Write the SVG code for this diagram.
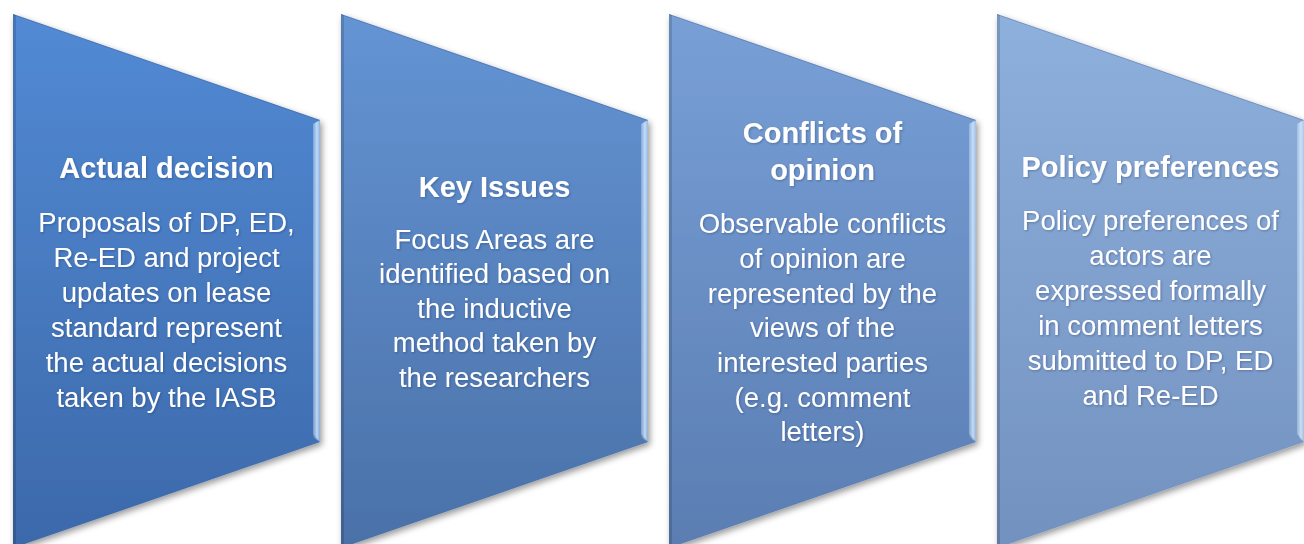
<svg xmlns="http://www.w3.org/2000/svg" width="1304" height="544" viewBox="0 0 1304 544">
  <defs>
    <linearGradient id="fill1" gradientUnits="userSpaceOnUse" x1="0" y1="14" x2="0" y2="548">
      <stop offset="0" stop-color="#528ad4"/>
      <stop offset="1" stop-color="#3c69aa"/>
    </linearGradient>
    <linearGradient id="fill2" gradientUnits="userSpaceOnUse" x1="0" y1="14" x2="0" y2="548">
      <stop offset="0" stop-color="#6494d4"/>
      <stop offset="1" stop-color="#4a71a8"/>
    </linearGradient>
    <linearGradient id="fill3" gradientUnits="userSpaceOnUse" x1="0" y1="14" x2="0" y2="548">
      <stop offset="0" stop-color="#78a0d7"/>
      <stop offset="1" stop-color="#5a7db2"/>
    </linearGradient>
    <linearGradient id="fill4" gradientUnits="userSpaceOnUse" x1="0" y1="14" x2="0" y2="548">
      <stop offset="0" stop-color="#8eb0dc"/>
      <stop offset="1" stop-color="#7291bf"/>
    </linearGradient>
    <!-- highlight on the bevelled right edge -->
    <linearGradient id="bevel" x1="0" y1="0" x2="1" y2="0">
      <stop offset="0" stop-color="#cfe6ff" stop-opacity="0.35"/>
      <stop offset="0.55" stop-color="#dff0ff" stop-opacity="0.8"/>
      <stop offset="1" stop-color="#cfe6ff" stop-opacity="0.5"/>
    </linearGradient>
    <filter id="shadow" x="-10%" y="-10%" width="120%" height="120%">
      <feDropShadow dx="2" dy="3" stdDeviation="3" flood-color="#000" flood-opacity="0.4"/>
    </filter>
    <filter id="textShadow" x="-5%" y="-20%" width="110%" height="140%">
      <feDropShadow dx="1" dy="1" stdDeviation="1" flood-color="#1a2f55" flood-opacity="0.35"/>
    </filter>
    <!-- one chevron block; positioned per node -->
    <polygon id="block" points="0,14 307,120 307,442 0,548"/>
  </defs>
  <style>
    .title { font-family: "Liberation Sans", Arial, sans-serif; font-weight: bold; font-size: 29px; fill: #ffffff; text-anchor: middle; }
    .body { font-family: "Liberation Sans", Arial, sans-serif; font-size: 27.5px; fill: #ffffff; text-anchor: middle; }
    .edge { fill: #000000; fill-opacity: 0.14; }
    .topEdge { fill: none; stroke: #1e3c6e; stroke-opacity: 0.25; stroke-width: 1; }
    .bevel { fill: url(#bevel); }
    .bevelDark { fill: #1e3c6e; fill-opacity: 0.3; }
    .label { filter: url(#textShadow); }
  </style>

  <g id="node-1" transform="translate(13,0)">
    <use href="#block" fill="url(#fill1)" filter="url(#shadow)"/>
    <polygon class="edge" points="0,14 3,15 3,547 0,548"/>
    <polyline class="topEdge" points="0,14.5 307,120.5"/>
    <polygon class="bevel" points="300,124 307,120 307,442 300,437"/>
    <polygon class="bevelDark" points="300,434 307,442 300,437"/>
    <g class="label">
      <text class="title" x="153.5" y="178">Actual decision</text>
      <text class="body" x="153.5" y="232">Proposals of DP, ED,</text>
      <text class="body" x="153.5" y="267">Re-ED and project</text>
      <text class="body" x="153.5" y="302">updates on lease</text>
      <text class="body" x="153.5" y="337">standard represent</text>
      <text class="body" x="153.5" y="372">the actual decisions</text>
      <text class="body" x="153.5" y="407">taken by the IASB</text>
    </g>
  </g>

  <g id="node-2" transform="translate(341,0)">
    <use href="#block" fill="url(#fill2)" filter="url(#shadow)"/>
    <polygon class="edge" points="0,14 3,15 3,547 0,548"/>
    <polyline class="topEdge" points="0,14.5 307,120.5"/>
    <polygon class="bevel" points="300,124 307,120 307,442 300,437"/>
    <polygon class="bevelDark" points="300,434 307,442 300,437"/>
    <g class="label">
      <text class="title" x="153.5" y="197">Key Issues</text>
      <text class="body" x="153.5" y="249">Focus Areas are</text>
      <text class="body" x="153.5" y="283">identified based on</text>
      <text class="body" x="153.5" y="318">the inductive</text>
      <text class="body" x="153.5" y="352">method taken by</text>
      <text class="body" x="153.5" y="387">the researchers</text>
    </g>
  </g>

  <g id="node-3" transform="translate(669,0)">
    <use href="#block" fill="url(#fill3)" filter="url(#shadow)"/>
    <polygon class="edge" points="0,14 3,15 3,547 0,548"/>
    <polyline class="topEdge" points="0,14.5 307,120.5"/>
    <polygon class="bevel" points="300,124 307,120 307,442 300,437"/>
    <polygon class="bevelDark" points="300,434 307,442 300,437"/>
    <g class="label">
      <text class="title" x="153.5" y="143">Conflicts of</text>
      <text class="title" x="153.5" y="180">opinion</text>
      <text class="body" x="153.5" y="233">Observable conflicts</text>
      <text class="body" x="153.5" y="268">of opinion are</text>
      <text class="body" x="153.5" y="303">represented by the</text>
      <text class="body" x="153.5" y="337">views of the</text>
      <text class="body" x="153.5" y="372">interested parties</text>
      <text class="body" x="153.5" y="407">(e.g. comment</text>
      <text class="body" x="153.5" y="441">letters)</text>
    </g>
  </g>

  <g id="node-4" transform="translate(997,0)">
    <use href="#block" fill="url(#fill4)" filter="url(#shadow)"/>
    <polygon class="edge" points="0,14 3,15 3,547 0,548"/>
    <polyline class="topEdge" points="0,14.5 307,120.5"/>
    <polygon class="bevel" points="300,124 307,120 307,442 300,437"/>
    <polygon class="bevelDark" points="300,434 307,442 300,437"/>
    <g class="label">
      <text class="title" x="153.5" y="177">Policy preferences</text>
      <text class="body" x="153.5" y="230">Policy preferences of</text>
      <text class="body" x="153.5" y="265">actors are</text>
      <text class="body" x="153.5" y="300">expressed formally</text>
      <text class="body" x="153.5" y="335">in comment letters</text>
      <text class="body" x="153.5" y="370">submitted to DP, ED</text>
      <text class="body" x="153.5" y="405">and Re-ED</text>
    </g>
  </g>
</svg>
